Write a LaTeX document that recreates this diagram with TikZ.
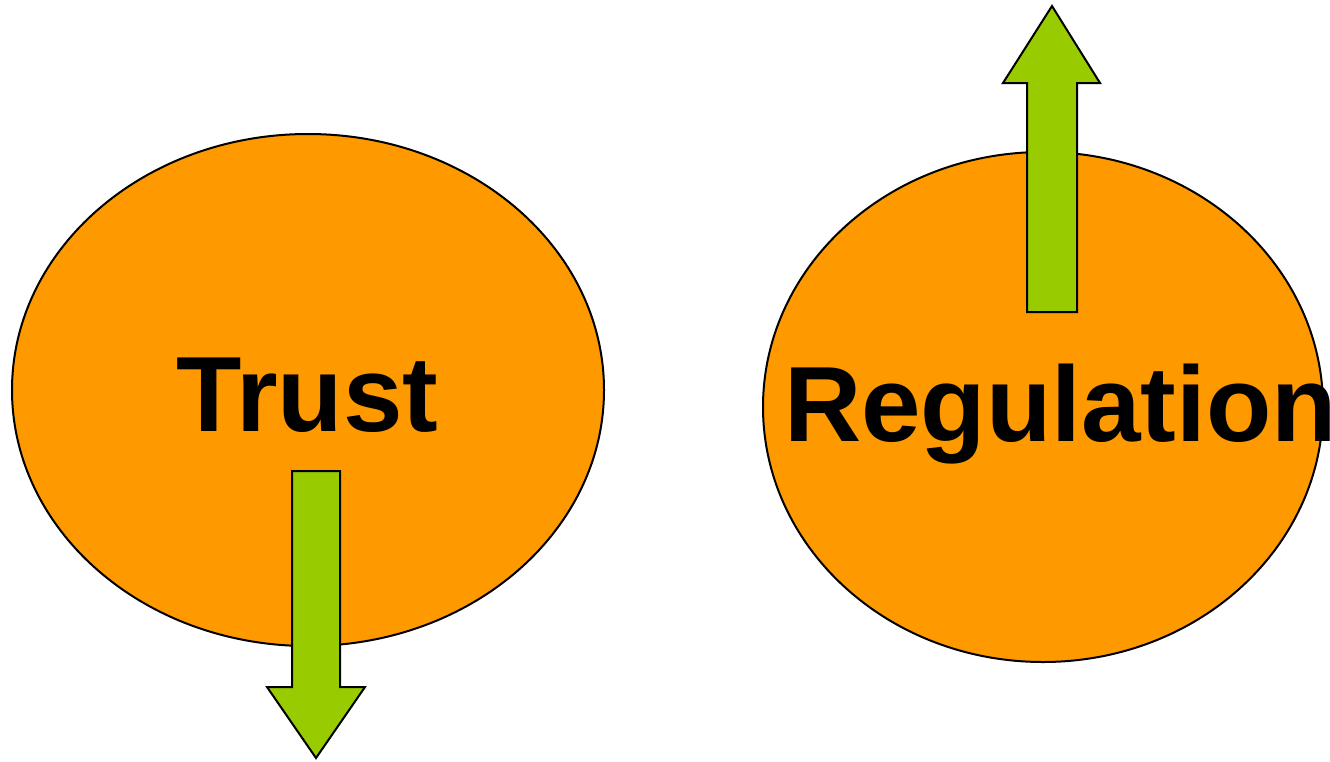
\documentclass[tikz,border=0pt]{standalone}
\usepackage{fontspec}
\setmainfont{Liberation Sans}
\usetikzlibrary{shapes.geometric}
\definecolor{orangefill}{HTML}{FF9900}
\definecolor{greenfill}{HTML}{99CC00}
\tikzset{
  blob/.style={ellipse, draw=black, line width=2pt, fill=orangefill, inner sep=0pt},
  greenarrow/.style={draw=black, line width=2pt, fill=greenfill, line join=miter},
  bigword/.style={font=\fontsize{107}{112}\selectfont\bfseries, inner sep=0pt, text=black}
}
\begin{document}
\begin{tikzpicture}[x=1pt,y=-1pt]
\useasboundingbox[fill=white] (0,0) rectangle (1330,761);
\node[blob, minimum width=592pt, minimum height=512pt] (trustblob) at (308,390) {};
\node[blob, minimum width=560pt, minimum height=510pt] (regblob) at (1043,407) {};
\node[bigword, anchor=base] (trust) at (307.5,431) {Trust};
\draw[greenarrow] (292,471) -- (340,471) -- (340,687) -- (365,687) -- (316,758) -- (267,687) -- (292,687) -- cycle;
\draw[greenarrow] (1027,312) -- (1077,312) -- (1077,83) -- (1100,83) -- (1052,6) -- (1003,83) -- (1027,83) -- cycle;
\node[bigword, anchor=base west] (reg) at (784,441) {Regulation};
\end{tikzpicture}
\end{document}
